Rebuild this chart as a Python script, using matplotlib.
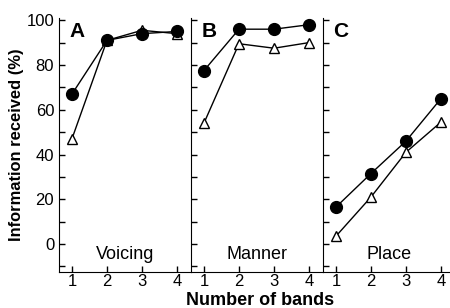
import numpy as np
import matplotlib.pyplot as plt
from matplotlib.ticker import MultipleLocator

plt.rcParams['font.family'] = ['Liberation Sans', 'DejaVu Sans']

bands = [1, 2, 3, 4]
panels = ['A', 'B', 'C']
features = ['Voicing', 'Manner', 'Place']
filled = [
    [67, 91, 94, 95],    # Voicing
    [77.5, 96, 96, 98],  # Manner
    [16.5, 31.5, 46, 65],  # Place
]
open_tri = [
    [47, 91, 95.5, 94],
    [54, 89.5, 87.5, 90],
    [3.5, 21, 41, 54.5],
]

fig = plt.figure(figsize=(4.5, 3.08), dpi=100)
W, H = 450, 308
left0, width = 59, 132

for i in range(3):
    ax = fig.add_axes([(left0 + i * width) / W, (H - 272) / H, width / W, (272 - 18) / H])
    ax.plot(bands, filled[i], '-o', color='black', lw=1, ms=8.5, zorder=3)
    ax.plot(bands, open_tri[i], '-^', color='black', mfc='white', mec='black',
            mew=1, lw=1, ms=7.5, zorder=2)
    ax.set_xlim(0.63, 4.4)
    ax.set_ylim(-12.5, 101)
    for s in ['top', 'right']:
        ax.spines[s].set_visible(False)
    ax.yaxis.set_major_locator(MultipleLocator(20))
    ax.yaxis.set_minor_locator(MultipleLocator(10))
    ax.set_xticks(bands)
    ax.tick_params(direction='in', length=4, labelsize=12, width=1)
    ax.tick_params(which='minor', direction='in', length=4, width=1)
    ax.tick_params(axis='x', pad=1.5)
    if i > 0:
        ax.set_yticklabels([])
    ax.text(0.08, 0.985, panels[i], transform=ax.transAxes, fontsize=15,
            fontweight='bold', va='top', ha='left')
    ax.text(0.5, 0.035, features[i], transform=ax.transAxes, fontsize=13,
            ha='center', va='bottom')
    ax.patch.set_alpha(0)
    if i == 0:
        ax.set_ylabel('Information received (%)', fontsize=11.9,
                      fontweight='bold', labelpad=2)

fig.text(260 / W, 1 - 305 / H, 'Number of bands', fontsize=13,
         fontweight='bold', ha='center', va='baseline')

fig.savefig('out.png', dpi=100)
